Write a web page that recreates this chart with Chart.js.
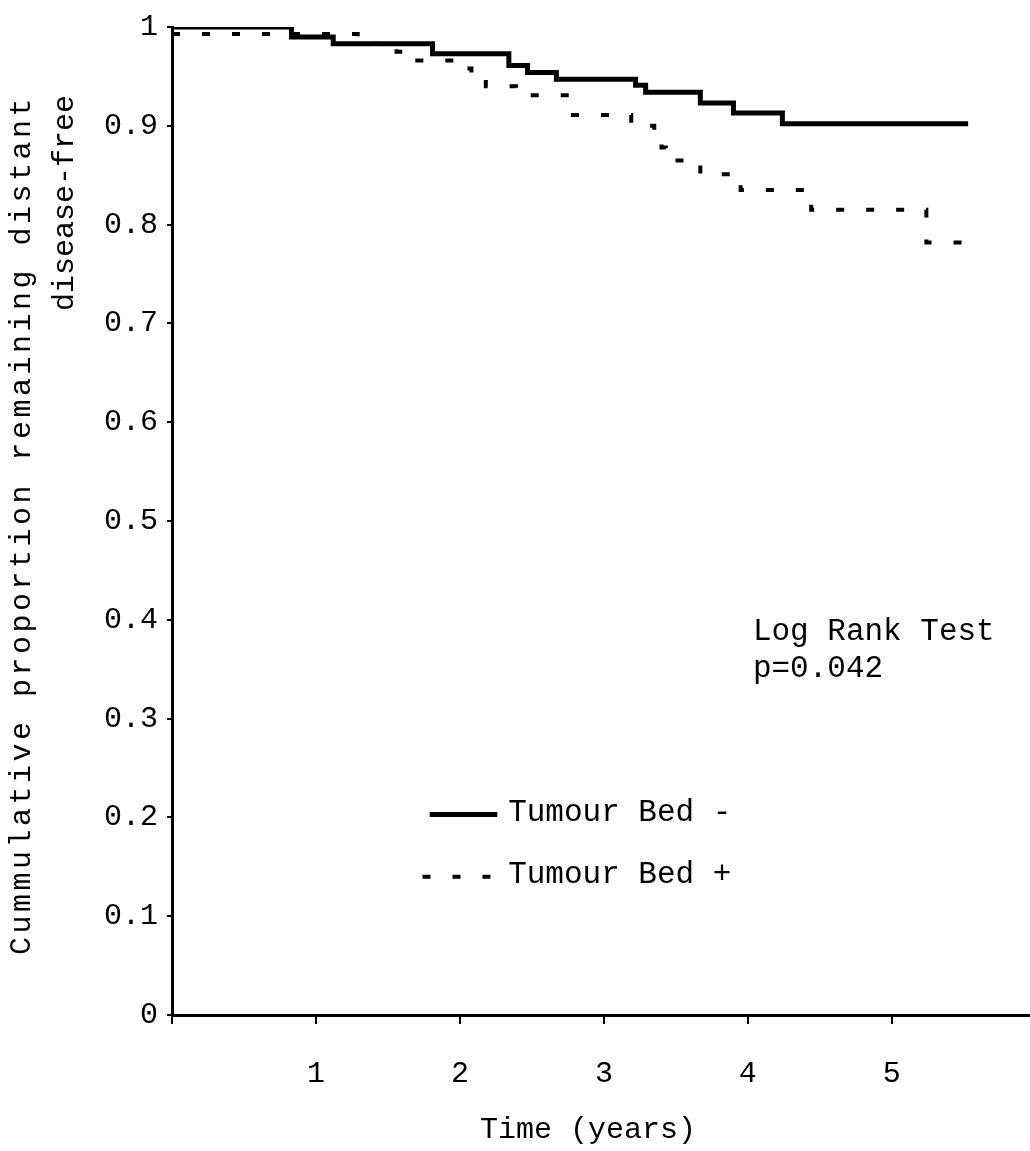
<!DOCTYPE html>
<html>
<head>
<meta charset="utf-8">
<script src="https://cdn.jsdelivr.net/npm/chart.js@4.4.0/dist/chart.umd.min.js"></script>
<style>
html,body{margin:0;padding:0;background:#fff}
#wrap{width:1030px;height:1151px;position:relative}
</style>
</head>
<body>
<div id="wrap"><canvas id="km"></canvas></div>
<script>
// Kaplan-Meier steps (time in years, proportion after each drop)
const bedNegTime = [0, 0.83, 1.12, 1.81, 2.34, 2.47, 2.67, 3.22, 3.29, 3.67, 3.90, 4.24, 5.53];
const bedNegSurv = [1, 0.990, 0.983, 0.973, 0.961, 0.954, 0.947, 0.941, 0.934, 0.923, 0.913, 0.902, 0.902];
const bedPosTime = [0, 1.29, 1.56, 1.66, 1.97, 2.08, 2.18, 2.39, 2.77, 3.19, 3.35, 3.40, 3.43, 3.67, 3.95, 4.44, 5.24, 5.51];
const bedPosSurv = [0.993, 0.983, 0.975, 0.966, 0.958, 0.950, 0.940, 0.931, 0.911, 0.900, 0.890, 0.878, 0.865, 0.851, 0.835, 0.815, 0.782, 0.782];
const xTicks = [0, 1, 2, 3, 4, 5];
const seriesLabels = ['Tumour Bed -', 'Tumour Bed +'];
const yTitle = ['Cummulative proportion remaining distant', 'disease-free'];
const xTitle = 'Time (years)';
const testNote = ['Log Rank Test', 'p=0.042'];

const FONT = '"Liberation Mono", "DejaVu Sans Mono", monospace';
const pts = (ts, ss) => ts.map((t, i) => ({x: t, y: ss[i]}));

// legend rows and note live inside the plot, placed in data units
const legendRows = [{x0: 1.79, x1: 2.26, y: 0.203}, {x0: 1.74, x1: 2.215, y: 0.140}];
const legendTextX = 2.335;

const overlay = {
  id: 'overlay',
  afterDraw(chart) {
    const {ctx, chartArea, scales: {x, y}} = chart;
    ctx.save();
    ctx.fillStyle = '#000';
    ctx.font = `31px ${FONT}`;
    ctx.textBaseline = 'middle';
    ctx.textAlign = 'left';
    testNote.forEach((t, i) => ctx.fillText(t, x.getPixelForValue(4.035), y.getPixelForValue(0.388 - i * 0.038)));
    chart.data.datasets.forEach((ds, i) => {
      const r = legendRows[i], yy = y.getPixelForValue(r.y);
      ctx.strokeStyle = ds.borderColor;
      ctx.lineWidth = ds.borderWidth;
      ctx.setLineDash(ds.borderDash || []);
      ctx.beginPath();
      ctx.moveTo(x.getPixelForValue(r.x0), yy);
      ctx.lineTo(x.getPixelForValue(r.x1), yy);
      ctx.stroke();
      ctx.setLineDash([]);
      ctx.fillText(ds.label, x.getPixelForValue(legendTextX), yy - 2);
    });
    // x title, a little left of the plot centre as in the figure
    ctx.font = `30px ${FONT}`;
    ctx.textAlign = 'center';
    ctx.fillText(xTitle, x.getPixelForValue(2.89), chartArea.bottom + 115);
    // rotated two-line y title, both lines ending near the top
    ctx.textAlign = 'right';
    [22, 65].forEach((cx, i) => {
      ctx.save();
      ctx.letterSpacing = i === 0 ? '3.5px' : '0px';
      ctx.translate(cx, 95);
      ctx.rotate(-Math.PI / 2);
      ctx.fillText(yTitle[i], 0, 0);
      ctx.restore();
    });
    ctx.restore();
  }
};

new Chart(document.getElementById('km'), {
  type: 'line',
  data: {
    datasets: [
      {label: seriesLabels[0], data: pts(bedNegTime, bedNegSurv), borderColor: '#000', borderWidth: 5, stepped: 'before', pointRadius: 0, fill: false},
      {label: seriesLabels[1], data: pts(bedPosTime, bedPosSurv), borderColor: '#000', borderWidth: 4, borderDash: [8, 22], stepped: 'before', pointRadius: 0, fill: false}
    ]
  },
  options: {
    animation: false, responsive: true, maintainAspectRatio: false,
    layout: {padding: {top: 18, right: 0, left: 0, bottom: 0}},
    plugins: {legend: {display: false}, tooltip: {enabled: false}},
    scales: {
      x: {
        type: 'linear', min: 0, max: 5.96,
        afterBuildTicks: s => { s.ticks = xTicks.map(v => ({value: v})); },
        afterFit: s => { s.height = 136; },
        border: {color: '#000', width: 3},
        grid: {drawOnChartArea: false, color: '#000', lineWidth: 2, tickLength: 9},
        ticks: {color: '#000', font: {family: FONT, size: 30}, padding: 32, maxRotation: 0, callback: v => v === 0 ? '' : String(v)}
      },
      y: {
        min: 0, max: 1,
        afterFit: s => { s.width = 172; },
        border: {color: '#000', width: 3},
        grid: {drawOnChartArea: false, color: '#000', lineWidth: 2, tickLength: 5},
        ticks: {stepSize: 0.1, color: '#000', font: {family: FONT, size: 30}, padding: 9,
          callback: v => (v === 0 || Math.abs(v - 1) < 1e-9) ? String(Math.round(v)) : v.toFixed(1)}
      }
    }
  },
  plugins: [overlay]
});
</script>
</body>
</html>
